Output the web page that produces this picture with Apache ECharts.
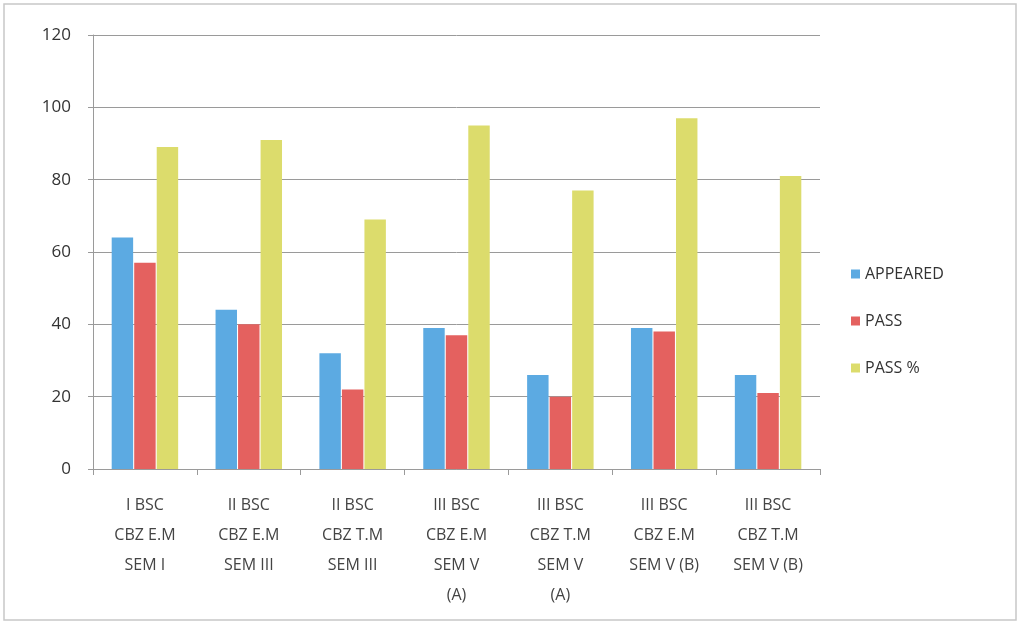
<!DOCTYPE html>
<html><head><meta charset="utf-8">
<script src="https://cdn.jsdelivr.net/npm/echarts@6/dist/echarts.min.js"></script>
<style>html,body{margin:0;padding:0;background:#fff}#c{width:1021px;height:625px}</style>
</head><body><div id="c"></div>
<script>
const categories = ["I BSC\nCBZ E.M\nSEM I","II BSC\nCBZ E.M\nSEM III","II BSC\nCBZ T.M\nSEM III","III BSC\nCBZ E.M\nSEM V\n(A)","III BSC\nCBZ T.M\nSEM V\n(A)","III BSC\nCBZ E.M\nSEM V (B)","III BSC\nCBZ T.M\nSEM V (B)"];
const appeared = [64, 44, 32, 39, 26, 39, 26];
const pass = [57, 40, 22, 37, 20, 38, 21];
const passPct = [89, 91, 69, 95, 77, 97, 81];
const yTicks = [0, 20, 40, 60, 80, 100, 120];

const chart = echarts.init(document.getElementById('c'));
const font = 'Open Sans';
chart.setOption({
  animation: false,
  backgroundColor: '#fff',
  graphic: [{type:'rect', shape:{x:4,y:4,width:1012,height:616}, style:{fill:'none', stroke:'#c8c8c8', lineWidth:1.5}}],
  grid: {left: 93, right: 201, top: 35, bottom: 156},
  legend: {
    orient: 'vertical', left: 846, top: 261, itemGap: 31,
    itemWidth: 9, itemHeight: 9, icon: 'rect',
    textStyle: {fontFamily: font, fontSize: 16, color: '#333'},
    data: ['APPEARED','PASS','PASS %']
  },
  xAxis: {
    type: 'category', data: categories,
    axisLine: {lineStyle: {color: '#9a9a9a'}},
    axisTick: {show: true, length: 6, lineStyle: {color: '#9a9a9a'}},
    axisLabel: {fontFamily: font, fontSize: 16, color: '#444', lineHeight: 30, margin: 21, interval: 0}
  },
  yAxis: {
    type: 'value', min: yTicks[0], max: yTicks[yTicks.length-1], interval: 20,
    axisLine: {show: true, lineStyle: {color: '#9a9a9a'}},
    axisTick: {show: true, length: 5, lineStyle: {color: '#9a9a9a'}},
    axisLabel: {fontFamily: font, fontSize: 17, color: '#333', margin: 22},
    splitLine: {lineStyle: {color: '#9a9a9a', width: 1}}
  },
  series: [
    {name: 'APPEARED', type: 'bar', data: appeared, itemStyle: {color: '#5CAAE2'}, barGap: '5%', barCategoryGap: '36%'},
    {name: 'PASS', type: 'bar', data: pass, itemStyle: {color: '#E4615F'}},
    {name: 'PASS %', type: 'bar', data: passPct, itemStyle: {color: '#DCDC6C'}}
  ]
});
</script></body></html>
